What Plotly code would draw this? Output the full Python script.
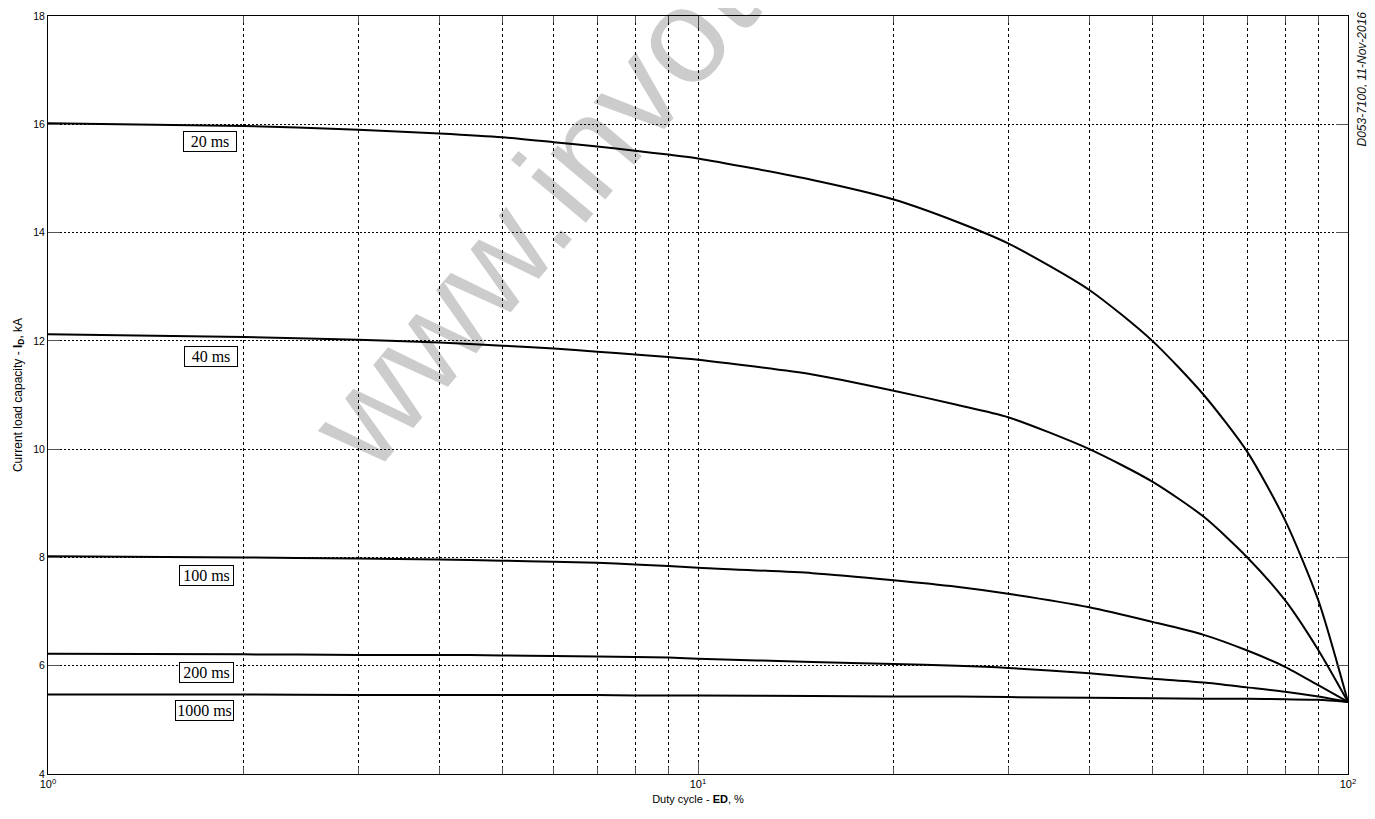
import math
import plotly.graph_objects as go

# Duty cycle ED, %
duty_cycle = [1, 2, 3, 4, 5, 6, 7, 8, 9, 10, 15, 20, 25, 30, 40, 50, 60, 70, 80, 90, 100]

cap_20ms = [16.02, 15.97, 15.90, 15.83, 15.76, 15.67, 15.59, 15.51, 15.44, 15.37, 14.97,
            14.61, 14.20, 13.80, 12.94, 12.00, 11.00, 9.95, 8.69, 7.21, 5.33]
cap_40ms = [12.12, 12.07, 12.02, 11.97, 11.91, 11.86, 11.80, 11.75, 11.70, 11.65, 11.38,
            11.08, 10.82, 10.59, 10.00, 9.40, 8.75, 8.00, 7.21, 6.29, 5.33]
cap_100ms = [8.02, 8.00, 7.98, 7.96, 7.94, 7.92, 7.90, 7.87, 7.84, 7.81, 7.71,
             7.58, 7.46, 7.33, 7.08, 6.81, 6.57, 6.28, 5.98, 5.64, 5.33]
cap_200ms = [6.22, 6.21, 6.20, 6.20, 6.19, 6.18, 6.17, 6.16, 6.15, 6.13, 6.07,
             6.03, 6.00, 5.96, 5.86, 5.76, 5.69, 5.60, 5.52, 5.43, 5.33]
cap_1000ms = [5.47, 5.47, 5.46, 5.46, 5.46, 5.46, 5.46, 5.45, 5.45, 5.45, 5.44,
              5.43, 5.43, 5.42, 5.41, 5.40, 5.39, 5.39, 5.38, 5.37, 5.33]

series_names = ["20 ms", "40 ms", "100 ms", "200 ms", "1000 ms"]
series_values = [cap_20ms, cap_40ms, cap_100ms, cap_200ms, cap_1000ms]

x_tick_vals = [1, 10, 100]
x_tick_text = ["10<sup>0</sup>", "10<sup>1</sup>", "10<sup>2</sup>"]
x_minor_vals = [2, 3, 4, 5, 6, 7, 8, 9, 20, 30, 40, 50, 60, 70, 80, 90]
y_tick_vals = [4, 6, 8, 10, 12, 14, 16, 18]

# label placement (right edge at ED value, centre at kA value) and box widths
label_right_x = [1.95, 1.96, 1.93, 1.93, 1.93]
label_y = [15.69, 11.72, 7.66, 5.87, 5.17]
label_w = [50, 50, 51, 51, 55]

fig = go.Figure()

for name, vals in zip(series_names, series_values):
    fig.add_trace(go.Scatter(
        x=duty_cycle, y=vals, mode="lines", name=name,
        line=dict(color="black", width=2, shape="spline", smoothing=0.7),
        showlegend=False, hoverinfo="x+y+name",
    ))

annotations = []
for name, lx, ly, w in zip(series_names, label_right_x, label_y, label_w):
    annotations.append(dict(
        x=math.log10(lx), y=ly, xref="x", yref="y", text=name, showarrow=False,
        font=dict(family="Liberation Serif", size=16, color="black"),
        bgcolor="white", bordercolor="black", borderwidth=1, borderpad=1,
        width=w, align="center",
        xanchor="right", yanchor="middle",
    ))

# watermark
annotations.append(dict(
    x=0.407, y=0.810, xref="paper", yref="paper", text="www.invotec",
    showarrow=False, textangle=-50,
    font=dict(family="Liberation Sans", size=135, color="rgba(0,0,0,0.2)"),
    xanchor="center", yanchor="middle",
))

# side stamp
annotations.append(dict(
    x=1.0, y=1.0, xref="paper", yref="paper", text="<i>D053-7100, 11-Nov-2016</i>",
    showarrow=False, textangle=-90, xshift=13, yshift=6,
    font=dict(family="Liberation Sans", size=12, color="#111"),
    xanchor="center", yanchor="top",
))

# page body adds an 8px offset, so the figure is sized to fit the window
fig.update_layout(
    width=1367, height=811,
    margin=dict(l=40, r=27, t=8, b=45, autoexpand=False),
    paper_bgcolor="white", plot_bgcolor="white",
    annotations=annotations,
    font=dict(family="Liberation Sans", size=11, color="black"),
)

fig.update_xaxes(
    type="log", range=[0, 2], automargin=False,
    tickvals=x_tick_vals, ticktext=x_tick_text,
    ticks="inside", ticklen=12, tickcolor="#555", tickwidth=1,
    showline=True, linecolor="black", linewidth=1, mirror="ticks",
    showgrid=True, gridcolor="black", gridwidth=1, griddash="3px,3px",
    minor=dict(tickvals=x_minor_vals, ticks="inside", ticklen=7, tickcolor="#555",
               showgrid=True, gridcolor="black", gridwidth=1, griddash="3px,3px"),
    zeroline=False,
    tickfont=dict(family="Liberation Sans", size=11, color="black"),
    title=dict(text="Duty cycle - <b>ED</b>, %", standoff=6,
               font=dict(family="Liberation Sans", size=11, color="black")),
)

fig.update_yaxes(
    range=[4, 18], tickvals=y_tick_vals, automargin=False,
    ticks="inside", ticklen=12, tickcolor="#555", tickwidth=1,
    showline=True, linecolor="black", linewidth=1, mirror="ticks",
    showgrid=True, gridcolor="black", gridwidth=1, griddash="2px,2px",
    zeroline=False,
    tickfont=dict(family="Liberation Sans", size=10.5, color="black"),
    title=dict(text="Current load capacity - <b>I<sub>D</sub></b>, kA", standoff=8,
               font=dict(family="Liberation Sans", size=12, color="black")),
)

fig.write_html("out.html")
